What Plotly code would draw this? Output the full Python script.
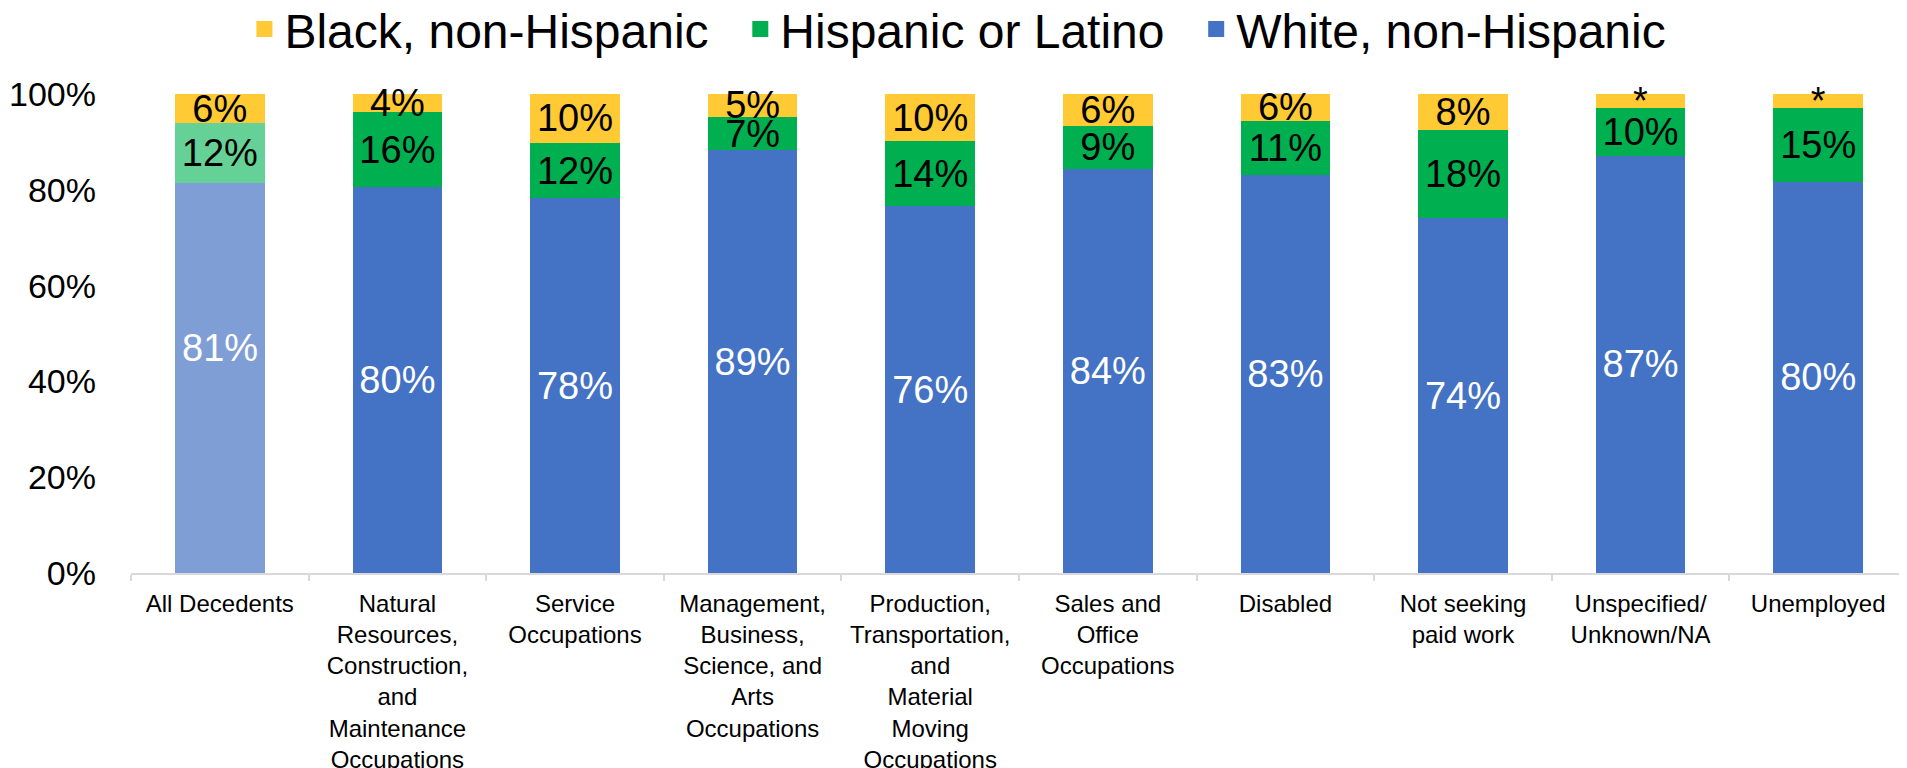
import plotly.graph_objects as go

categories = [
    "All Decedents",
    "Natural<br>Resources,<br>Construction,<br>and<br>Maintenance<br>Occupations",
    "Service<br>Occupations",
    "Management,<br>Business,<br>Science, and<br>Arts<br>Occupations",
    "Production,<br>Transportation,<br>and<br>Material<br>Moving<br>Occupations",
    "Sales and<br>Office<br>Occupations",
    "Disabled",
    "Not seeking<br>paid work",
    "Unspecified/<br>Unknown/NA",
    "Unemployed",
]

white_vals = [81.5, 80.5, 78.2, 88.3, 76.6, 84.3, 83.0, 74.1, 87.1, 81.7]
hisp_vals = [12.4, 15.7, 11.6, 6.9, 13.5, 9.1, 11.4, 18.3, 9.9, 15.3]
black_vals = [6.1, 3.8, 10.2, 4.8, 9.9, 6.6, 5.6, 7.6, 3.0, 3.0]

white_labels = ["81%", "80%", "78%", "89%", "76%", "84%", "83%", "74%", "87%", "80%"]
hisp_labels = ["12%", "16%", "12%", "7%", "14%", "9%", "11%", "18%", "10%", "15%"]
black_labels = ["6%", "4%", "10%", "5%", "10%", "6%", "6%", "8%", "*", "*"]

y_ticks = [0, 20, 40, 60, 80, 100]
y_tick_text = ["0%", "20%", "40%", "60%", "80%", "100%"]

series_names = ["White, non-Hispanic", "Hispanic or Latino", "Black, non-Hispanic"]

BLUE, BLUE_L = "#4472C4", "#7F9ED6"
GREEN, GREEN_L = "#00B050", "#66D196"
YELLOW = "#FFCA33"
FONT = "Liberation Sans, Arial, sans-serif"
PAD = "\u00a0\u00a0"  # extra spacing between legend entries

n = len(categories)
fig = go.Figure()

# first bar's white label sits higher in the reference -> drawn as annotation
white_text = [""] + white_labels[1:]

common = dict(textposition="inside", textangle=0, constraintext="none",
              insidetextanchor="middle", marker_line_width=0, cliponaxis=False,
              showlegend=False)

fig.add_trace(go.Bar(
    name=series_names[0], x=categories, y=white_vals,
    text=white_text, marker_color=[BLUE_L] + [BLUE] * (n - 1),
    textfont=dict(family=FONT, size=38, color="white"), **common))
fig.add_trace(go.Bar(
    name=series_names[1], x=categories, y=hisp_vals,
    text=hisp_labels, marker_color=[GREEN_L] + [GREEN] * (n - 1),
    textfont=dict(family=FONT, size=38, color="black"), **common))
fig.add_trace(go.Bar(
    name=series_names[2], x=categories, y=black_vals,
    text=black_labels, marker_color=YELLOW,
    textfont=dict(family=FONT, size=38, color="black"), **common))

# legend entries (larger square swatches)
legend_names = [series_names[0], series_names[1] + PAD, series_names[2] + PAD]
for name, col in zip(legend_names, [BLUE, GREEN, YELLOW]):
    fig.add_trace(go.Scatter(
        name=name, x=[None], y=[None], mode="markers",
        marker=dict(symbol="square", size=22, color=col),
        showlegend=True, hoverinfo="skip"))

fig.add_annotation(x=categories[0], y=47, text=white_labels[0], showarrow=False,
                   font=dict(family=FONT, size=38, color="white"),
                   xref="x", yref="y")

fig.update_layout(
    barmode="stack",
    bargap=0.495,
    width=1899, height=760,
    margin=dict(l=123, r=0, t=86, b=195, autoexpand=False),
    paper_bgcolor="white", plot_bgcolor="white",
    font=dict(family=FONT, color="black"),
    showlegend=True,
    legend=dict(orientation="h", traceorder="reversed",
                xref="container", yref="container",
                x=0.1245, xanchor="left", y=0.972, yanchor="middle",
                font=dict(family=FONT, size=48, color="black"),
                itemclick=False, itemdoubleclick=False),
    xaxis=dict(showline=True, linecolor="#D9D9D9", linewidth=2,
               ticks="outside", tickson="boundaries", ticklen=6,
               tickcolor="#D9D9D9", tickwidth=2, automargin=False,
               ticklabelstandoff=8,
               tickfont=dict(family=FONT, size=24, color="black"),
               showgrid=False, tickangle=0),
    yaxis=dict(range=[0, 100], tickvals=y_ticks, ticktext=y_tick_text,
               showgrid=False, zeroline=False, showline=False,
               ticks="", ticklabelstandoff=34, automargin=False,
               tickfont=dict(family=FONT, size=34, color="black")),
)

fig.write_html("out.html")
